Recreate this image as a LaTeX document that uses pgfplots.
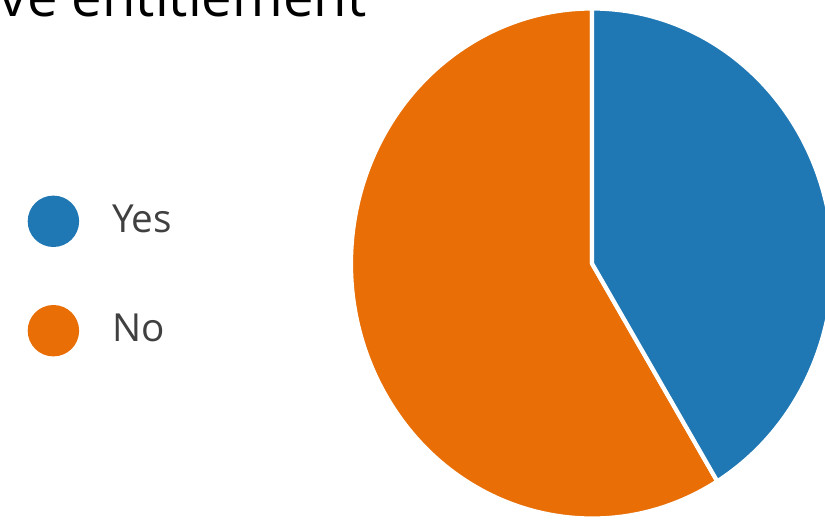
\documentclass[border=0pt]{standalone}
\usepackage{pgfplots}
\pgfplotsset{compat=1.18}
\usepackage{pgfplotstable}
\usepackage{fontspec}
\setmainfont{Open Sans}
\definecolor{yesblue}{RGB}{31,119,180}
\definecolor{noorange}{RGB}{232,110,5}
\definecolor{legtext}{RGB}{64,64,64}
\pgfplotstableread{
label value
Yes 41.3
No 58.7
}\piedata
\begin{document}
\begin{tikzpicture}
\pgfplotstablegetelem{0}{value}\of\piedata
\pgfmathsetmacro\yesval{\pgfplotsretval}
\pgfplotstablegetelem{1}{value}\of\piedata
\pgfmathsetmacro\noval{\pgfplotsretval}
\pgfmathsetmacro\yesend{90-3.6*\yesval}
\pgfmathsetmacro\noend{\yesend-3.6*\noval}
\useasboundingbox (0,0) rectangle (8.25,5.19);
\clip (0,0) rectangle (8.25,5.19);
\begin{axis}[at={(0,0)}, anchor=south west, scale only axis,
  width=8.25cm, height=5.19cm, xmin=0, xmax=825, ymin=0, ymax=519,
  hide axis, clip=false,
  legend style={at={(axis cs:27,243)}, anchor=west, draw=none, fill=none,
    inner sep=0pt, row sep=0.58cm, column sep=0.33cm,
    font=\fontsize{11}{13}\selectfont, text=legtext,
    nodes={inner sep=0pt}},
  legend cell align=left,
  legend image code/.code={\fill[#1] (0.25cm,0cm) circle[radius=0.25cm];}
]
\filldraw[fill=noorange, draw=white, line width=1.2pt, line join=round]
  (axis cs:592,255.5) -- ++({2.41cm*cos(\yesend)},{2.55cm*sin(\yesend)})
  arc[start angle=\yesend, end angle=\noend, x radius=2.41cm, y radius=2.55cm] -- cycle;
\filldraw[fill=yesblue, draw=white, line width=1.2pt, line join=round]
  (axis cs:592,255.5) -- ++(0cm,2.55cm)
  arc[start angle=90, end angle=\yesend, x radius=2.41cm, y radius=2.55cm] -- cycle;
\node[anchor=base east, inner sep=0pt, font=\fontsize{15.5}{18}\selectfont] at (axis cs:367,502) {ive entitlement};
\addlegendimage{yesblue}
\addlegendentry{Yes}
\addlegendimage{noorange}
\addlegendentry{No}
\end{axis}
\end{tikzpicture}
\end{document}
